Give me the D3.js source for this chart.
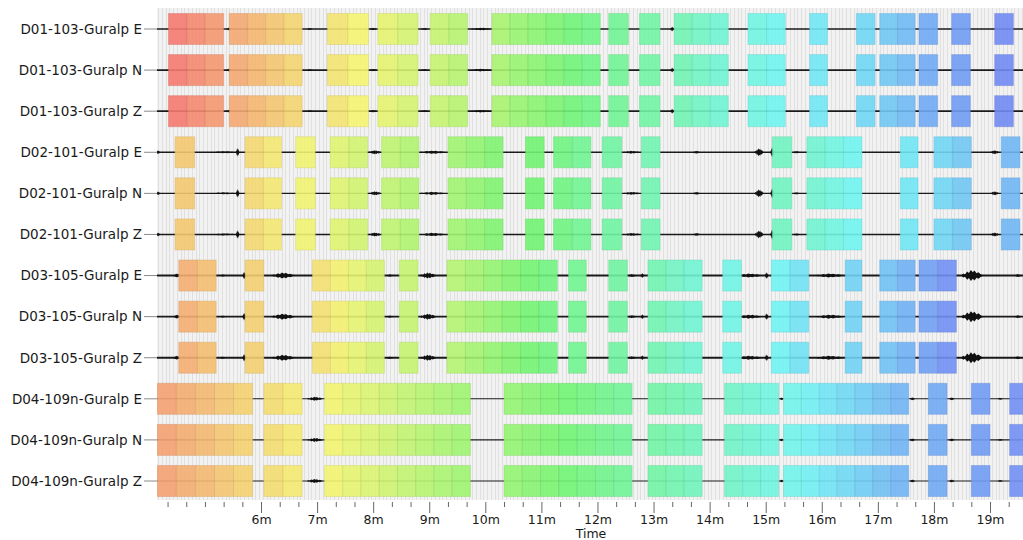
<!DOCTYPE html>
<html><head><meta charset="utf-8">
<script src="https://cdn.jsdelivr.net/npm/d3@7"></script>
<style>
body{margin:0;background:#fff}
text{font-family:"DejaVu Sans",Verdana,sans-serif;fill:#1a1a1a}
</style>
</head><body>
<svg id="chart" width="1023" height="540"></svg>
<script>
// ---------- data ----------
const stations = ["D01-103", "D02-101", "D03-105", "D04-109n"];
const components = ["E", "N", "Z"];
const timeDomain = [248.7, 1175.3]; // seconds
const majorTicks = [360, 420, 480, 540, 600, 660, 720, 780, 840, 900, 960, 1020, 1080, 1140];
const tickLabels = ["6m","7m","8m","9m","10m","11m","12m","13m","14m","15m","16m","17m","18m","19m"];
const axisTitle = "Time";

// analysis windows per station: [start s, end s, number of cells]
const windowsD01 = [[261,320,3],[326,404,4],[431,475,2],[485,528,2],[541,581,2],[607,723,6],[732,753,1],[765,787,1],[802,860,3],[881,921,2],[947,966,1],[997,1017,1],[1022,1060,2],[1064,1084,1],[1099,1119,1],[1145,1165,1]];
const windowsD02 = [[268,289,1],[343,382,2],[397,418,1],[434,474,2],[489,529,2],[560,619,3],[643,663,1],[673,713,2],[725,746,1],[767,787,1],[907,928,1],[944,1003,3],[1044,1063,1],[1080,1120,2],[1152,1172,1]];
const windowsD03 = [[272,312,2],[343,363,1],[415,492,4],[508,528,1],[559,677,6],[689,708,1],[732,752,1],[774,832,3],[854,874,1],[906,946,2],[985,1003,1],[1022,1060,2],[1064,1104,2]];
const windowsD04 = [[249,351,5],[363,404,2],[428,584,8],[620,757,7],[774,832,3],[856,914,3],[919,1053,7],[1074,1094,1],[1120,1140,1],[1161,1181,1]];

// hue range of the window colour ramp per station (first cell, last cell)
const hueD01 = [4, 228];
const hueD02 = [40, 208];
const hueD03 = [28, 226];
const hueD04 = [22, 226];

// seismic bursts per station: [time s, half-duration s, amplitude]
const eventsD01 = [[326,3,1.5],[412,3,1],[480,4,1.2],[535,4,1],[596,12,1.3],[800,2,2.5]];
const eventsD02 = [[250,2,2],[321,15,1],[335,2,4.5],[482,7,2],[544,15,1.6],[757,10,1.4],[826,4,1.5],[893,5,4],[907,2,5.5],[933,4,1.2],[1145,5,2]];
const eventsD03 = [[270,4,2],[319,3,1.2],[342,2,4],[384,13,3],[498,4,1.2],[539,9,3],[757,5,1.5],[768,2,2.5],[883,14,2],[901,2,3.5],[969,16,2],[1121,12,5.5],[1170,4,1.5]];
const eventsD04 = [[418,9,2],[917,2,1.5],[1057,3,1.5],[1099,3,1.5],[1151,3,1]];

// ---------- setup ----------
const windowsBy = [windowsD01, windowsD02, windowsD03, windowsD04];
const huesBy = [hueD01, hueD02, hueD03, hueD04];
const eventsBy = [eventsD01, eventsD02, eventsD03, eventsD04];
const traceWidth = [1.7, 1.4, 1.9, 1.1];
// jagged burst glyph (relative position, relative amplitude)
const glyph = [[-1,0],[-0.8,0.35],[-0.65,0.2],[-0.45,0.75],[-0.3,0.45],[-0.12,1],[0.05,0.6],[0.2,0.9],[0.38,0.4],[0.55,0.6],[0.75,0.25],[1,0]];

const rows = [];
stations.forEach((s, si) => components.forEach(c => rows.push({label: `${s}-Guralp ${c}`, si})));

const svg = d3.select("#chart");
const plot = {left: 157, right: 1023, top: 8, bottom: 500};
const x = d3.scaleLinear().domain(timeDomain).range([plot.left, plot.right]);
const y = d3.scalePoint().domain(rows.map(r => r.label)).range([29, 481]);
const amp = d3.scaleLinear().domain([0, 10]).range([0, 10]);
const cellH = 31;

svg.append("defs").append("clipPath").attr("id", "clip")
  .append("rect").attr("x", plot.left).attr("y", plot.top)
  .attr("width", plot.right - plot.left).attr("height", plot.bottom - plot.top);

const g = svg.append("g").attr("clip-path", "url(#clip)");
g.append("rect").attr("x", plot.left).attr("y", plot.top)
  .attr("width", plot.right - plot.left).attr("height", plot.bottom - plot.top)
  .attr("fill", "#f2f2f2");

// background grid
g.selectAll("line.grid").data(d3.range(250, 1176, 4)).join("line")
  .attr("class", "grid")
  .attr("x1", d => Math.round(x(d)) + 0.5).attr("x2", d => Math.round(x(d)) + 0.5)
  .attr("y1", plot.top).attr("y2", plot.bottom)
  .attr("stroke", d => d % 60 === 0 ? "#cfcfcf" : "#e0e0e0").attr("stroke-width", 1);

// traces
const burst = d3.area().curve(d3.curveLinear)
  .x(d => x(d[0])).y0(d => d[2] - amp(d[1])).y1(d => d[2] + amp(d[1]));

rows.forEach(r => {
  const yc = y(r.label);
  g.append("line").attr("x1", x(timeDomain[0])).attr("x2", x(timeDomain[1]))
    .attr("y1", yc).attr("y2", yc)
    .attr("stroke", "#1a1a1a").attr("stroke-width", traceWidth[r.si]);
  eventsBy[r.si].forEach(([t, hw, a]) => {
    const pts = glyph.map(([p, q]) => [t + p * hw, a * q, yc]);
    g.append("path").attr("d", burst(pts)).attr("fill", "#111");
  });
});

// windows
rows.forEach(r => {
  const yc = y(r.label);
  const wins = windowsBy[r.si];
  const nCells = d3.sum(wins, w => w[2]);
  const hue = d3.scaleLinear().domain([0, nCells - 1]).range(huesBy[r.si]);
  let idx = 0;
  const cells = [];
  wins.forEach(([s, e, n]) => {
    const w = (e - s) / n;
    for (let i = 0; i < n; i++) cells.push({t0: s + i * w, t1: s + (i + 1) * w, k: idx++});
  });
  g.selectAll(null).data(cells).join("rect")
    .attr("x", d => x(d.t0)).attr("width", d => x(d.t1) - x(d.t0))
    .attr("y", yc - cellH / 2).attr("height", cellH)
    .attr("fill", d => d3.hsl(hue(d.k), 0.85, 0.7))
    .attr("fill-opacity", 0.9)
    .attr("stroke", d => d3.hsl(hue(d.k), 0.55, 0.6))
    .attr("stroke-opacity", 0.4).attr("stroke-width", 1);
});

// row labels
rows.forEach(r => {
  const yc = y(r.label);
  svg.append("line").attr("x1", 144).attr("x2", plot.left).attr("y1", yc).attr("y2", yc)
    .attr("stroke", "#8a8a8a").attr("stroke-width", 1);
  svg.append("text").attr("x", 142).attr("y", yc).attr("dy", "0.36em")
    .attr("text-anchor", "end").attr("font-size", "13.5px").text(r.label);
});

// x axis
const minorTicks = d3.range(260, 1176, 20).filter(t => !majorTicks.includes(t));
const axY = 502;
const axMinor = svg.append("g").attr("transform", `translate(0,${axY})`)
  .call(d3.axisBottom(x).tickValues(minorTicks).tickSize(5).tickFormat(""));
const axMajor = svg.append("g").attr("transform", `translate(0,${axY})`)
  .call(d3.axisBottom(x).tickValues(majorTicks).tickSize(11).tickPadding(2)
    .tickFormat((d, i) => tickLabels[i]));
[axMinor, axMajor].forEach(a => {
  a.select(".domain").remove();
  a.selectAll(".tick line").attr("stroke", "#666");
});
axMajor.selectAll(".tick text").attr("font-size", "12.5px")
  .style("font-family", '"DejaVu Sans",Verdana,sans-serif').attr("fill", "#1a1a1a");
svg.append("text").attr("x", 591).attr("y", 538).attr("text-anchor", "middle")
  .attr("font-size", "12.5px").text(axisTitle);
</script>
</body></html>
